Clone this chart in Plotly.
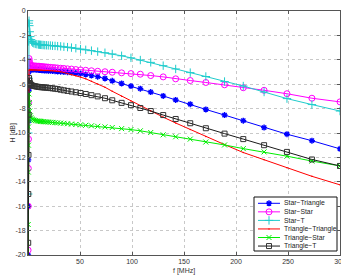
import plotly.graph_objects as go

# ---------------- data ----------------
freq_mhz = [0.1, 0.2, 0.3, 0.45, 0.6, 0.8, 1.0, 1.3, 1.7, 2.2, 2.8, 3.5, 4.5, 5.6, 7, 8.5, 10,
            11, 12.1, 13.3, 14.6, 16.1, 17.7, 19.5, 21.5, 23.6, 26,
            28.5, 31.4, 34.5, 38, 41.8, 46, 50.5, 55.5, 61, 67,
            74, 81, 90, 99, 108, 118, 130, 142, 156, 171,
            189, 207, 227, 249, 273, 300]

star_triangle = [-20.0, -16.0, -12.2, -9.0, -6.5, -5.0, -4.6, -4.65, -4.7, -4.75, -4.77, -4.78, -4.79, -4.8, -4.8, -4.81, -4.82,
                 -4.83, -4.84, -4.85, -4.86, -4.87, -4.88, -4.89, -4.9, -4.91, -4.93,
                 -4.95, -4.97, -4.99, -5.02, -5.05, -5.09, -5.13, -5.2, -5.28, -5.38,
                 -5.53, -5.72, -5.94, -6.15, -6.37, -6.64, -6.96, -7.29, -7.64, -8.07,
                 -8.53, -8.99, -9.55, -10.1, -10.63, -11.3]

star_star = [-19.6, -16.0, -12.9, -10.5, -7.5, -4.6, -3.9, -4.1, -4.3, -4.4, -4.45, -4.48, -4.5, -4.5, -4.51, -4.52, -4.53,
             -4.54, -4.55, -4.56, -4.57, -4.58, -4.59, -4.6, -4.62, -4.63, -4.65,
             -4.67, -4.69, -4.71, -4.74, -4.76, -4.8, -4.83, -4.86, -4.9, -4.94,
             -4.98, -5.02, -5.07, -5.13, -5.18, -5.29, -5.4, -5.56, -5.7, -5.86,
             -6.05, -6.29, -6.5, -6.78, -7.15, -7.45]

star_t = [-22.0, -15.0, -10.0, -5.5, -2.5, -1.0, -0.8, -1.2, -1.7, -2.1, -2.35, -2.5, -2.6, -2.65, -2.7, -2.72, -2.75,
          -2.76, -2.77, -2.78, -2.79, -2.8, -2.81, -2.82, -2.83, -2.85, -2.86,
          -2.88, -2.9, -2.93, -2.96, -3.0, -3.05, -3.12, -3.18, -3.25, -3.33,
          -3.42, -3.52, -3.67, -3.84, -4.02, -4.21, -4.48, -4.75, -5.05, -5.37,
          -5.78, -6.15, -6.64, -7.18, -7.67, -8.2]

triangle_triangle = [-23.0, -17.0, -12.5, -9.0, -6.5, -5.2, -4.85, -4.82, -4.82, -4.82, -4.83, -4.83, -4.83, -4.84, -4.84, -4.84, -4.85,
                     -4.85, -4.86, -4.86, -4.87, -4.87, -4.88, -4.88, -4.89, -4.9, -4.92,
                     -4.94, -4.98, -5.05, -5.12, -5.2, -5.3, -5.42, -5.56, -5.75, -5.98,
                     -6.25, -6.58, -6.98, -7.38, -7.78, -8.2, -8.7, -9.18, -9.72, -10.28,
                     -10.95, -11.6, -12.2, -12.85, -13.55, -14.25]

triangle_star = [-21.0, -17.5, -13.2, -11.0, -9.5, -7.6, -6.8, -7.5, -8.2, -8.6, -8.75, -8.85, -8.9, -8.95, -8.98, -9.0, -9.02,
                 -9.03, -9.05, -9.06, -9.07, -9.08, -9.09, -9.1, -9.12, -9.13, -9.15,
                 -9.17, -9.19, -9.21, -9.24, -9.27, -9.3, -9.33, -9.37, -9.41, -9.45,
                 -9.5, -9.55, -9.64, -9.72, -9.82, -9.96, -10.15, -10.31, -10.5, -10.74,
                 -10.98, -11.28, -11.55, -11.9, -12.3, -12.7]

triangle_t = [-22.0, -19.0, -15.0, -11.8, -8.5, -6.0, -5.5, -5.7, -5.9, -6.0, -6.05, -6.1, -6.12, -6.15, -6.17, -6.2, -6.22,
              -6.23, -6.24, -6.25, -6.26, -6.27, -6.28, -6.3, -6.32, -6.34, -6.37,
              -6.4, -6.45, -6.5, -6.55, -6.6, -6.66, -6.72, -6.8, -6.9, -7.0,
              -7.15, -7.32, -7.53, -7.72, -7.95, -8.2, -8.53, -8.85, -9.2, -9.61,
              -10.05, -10.5, -11.0, -11.55, -12.17, -12.7]

series_names = ["Star\u2212Triangle", "Star\u2212Star", "Star\u2212T",
                "Triangle\u2212Triangle", "Triangle\u2212Star", "Triangle\u2212T"]
series_values = [star_triangle, star_star, star_t, triangle_triangle, triangle_star, triangle_t]

x_ticks = [50, 100, 150, 200, 250, 300]
y_ticks = [-20, -18, -16, -14, -12, -10, -8, -6, -4, -2, 0]

# ---------------- styles ----------------
styles = [
    dict(line=dict(color="#0000ff", width=1), marker=dict(symbol="asterisk-open", size=5, color="#0000ff", line=dict(width=1.4, color="#0000ff"))),
    dict(line=dict(color="#ff00ff", width=1), marker=dict(symbol="circle-open", size=6, color="#ff00ff", line=dict(width=1, color="#ff00ff"))),
    dict(line=dict(color="#1fcccc", width=1), marker=dict(symbol="cross-thin-open", size=6, color="#1fcccc", line=dict(width=1, color="#1fcccc"))),
    dict(line=dict(color="#ff0000", width=1), marker=dict(symbol="circle", size=1.5, color="#ff0000")),
    dict(line=dict(color="#00ee00", width=1), marker=dict(symbol="x-thin-open", size=5, color="#00ee00", line=dict(width=1, color="#00ee00"))),
    dict(line=dict(color="#1a1a1a", width=1), marker=dict(symbol="square-open", size=5, color="#333333", line=dict(width=1, color="#444444"))),
]

FONT = "Liberation Sans, Arial, sans-serif"
fig = go.Figure()

for name, vals, st in zip(series_names, series_values, styles):
    fig.add_trace(go.Scatter(x=freq_mhz, y=vals, mode="lines+markers", name=name,
                             line=st["line"], marker=st["marker"], showlegend=False))

# The page body has an 8px margin, so the figure is sized/placed to land in the window.
PAGE_OFF = 8
W, H = 349 - PAGE_OFF, 275 - PAGE_OFF
# plot area in window pixels
L, R, T, B = 28, 340, 11, 255

# ---------------- manual legend (overlay axis in window pixels) ----------------
leg_x0, leg_x1, leg_y0, leg_y1 = 254, 337, 197, 251
row_top, row_gap = 203.3, 8.55

fig.add_trace(go.Scatter(x=[leg_x0, leg_x1, leg_x1, leg_x0, leg_x0],
                         y=[leg_y0, leg_y0, leg_y1, leg_y1, leg_y0],
                         mode="lines", fill="toself", fillcolor="white",
                         line=dict(color="#111", width=1), xaxis="x2", yaxis="y2",
                         showlegend=False, hoverinfo="skip"))
for i, (name, st) in enumerate(zip(series_names, styles)):
    yy = row_top + i * row_gap
    fig.add_trace(go.Scatter(x=[258, 269, 280], y=[yy, yy, yy], mode="lines", xaxis="x2", yaxis="y2",
                             line=st["line"], showlegend=False, hoverinfo="skip"))
    fig.add_trace(go.Scatter(x=[269], y=[yy], mode="markers", xaxis="x2", yaxis="y2",
                             marker=st["marker"], showlegend=False, hoverinfo="skip"))
    fig.add_annotation(x=281.5, y=yy, xref="x2", yref="y2", text=name, showarrow=False,
                       xanchor="left", yanchor="middle", font=dict(family=FONT, size=6.8, color="#222"))

# axis titles as annotations
fig.add_annotation(x=0, y=0.5, xref="paper", yref="paper", xshift=-(L - 12.5), text="H [dB]",
                   textangle=-90, showarrow=False, xanchor="center", yanchor="middle",
                   font=dict(family=FONT, size=7, color="#333"))
fig.add_annotation(x=0.5, y=0, xref="paper", yref="paper", yshift=-(270.5 - B), text="f [MHz]",
                   showarrow=False, xanchor="center", yanchor="middle",
                   font=dict(family=FONT, size=7, color="#333"))

axis_common = dict(ticks="inside", ticklen=3, tickcolor="#555", showline=True, linecolor="#555", linewidth=1,
                   mirror="allticks", showgrid=True, gridcolor="#c8c8c8", griddash="dot", gridwidth=1,
                   zeroline=False, tickfont=dict(size=7, color="#333"), automargin=False,
                   ticklabeloverflow="allow")

fig.update_layout(
    width=W, height=H,
    margin=dict(l=L - PAGE_OFF, r=W - (R - PAGE_OFF), t=T - PAGE_OFF, b=H - (B - PAGE_OFF), pad=0),
    paper_bgcolor="white", plot_bgcolor="white",
    font=dict(family=FONT, size=7, color="#333"),
    xaxis=dict(range=[0, 300], tickvals=x_ticks, ticktext=[str(v) for v in x_ticks], **axis_common),
    yaxis=dict(range=[-20, 0], tickvals=y_ticks, ticktext=[str(v) for v in y_ticks], **axis_common),
    xaxis2=dict(range=[L, R], overlaying="x", visible=False, fixedrange=True),
    yaxis2=dict(range=[B, T], overlaying="y", visible=False, fixedrange=True),
    showlegend=False,
)

fig.write_html("out.html")
